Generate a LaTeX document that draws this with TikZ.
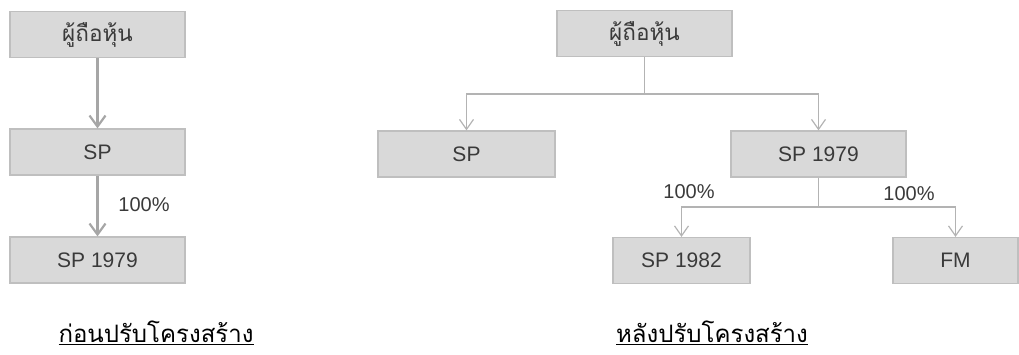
\documentclass[tikz,border=0pt]{standalone}
\usepackage{fontspec}
\setmainfont{Liberation Sans}
\newfontfamily\thaifont[Script=Thai]{Loma}
\usepackage{xcolor}
\usetikzlibrary{arrows.meta}

\definecolor{boxfill}{HTML}{D9D9D9}
\definecolor{boxline}{HTML}{BFBFBF}
\definecolor{linkgray}{HTML}{A6A6A6}
\definecolor{textgray}{HTML}{3A3A3A}

\begin{document}
\begin{tikzpicture}[x=1pt, y=-1pt,
		company/.style = {draw = boxline, line width = 1.2pt, fill = boxfill, text = textgray,
			minimum height = 46pt, inner sep = 0pt, font = \fontsize{21}{24}\selectfont},
		owner/.style = {company, font = \thaifont\fontsize{22.5}{25}\selectfont},
		thicklink/.style = {draw = linkgray, line width = 2.2pt, -{Straight Barb[length=11pt, width=16pt]}},
		thinlink/.style = {draw = linkgray!85, line width = 1.2pt, -{Straight Barb[length=10pt, width=14pt]}},
		share/.style = {text = textgray, font = \fontsize{20}{22}\selectfont},
		caption/.style = {font = \thaifont\fontsize{24}{27}\selectfont}]
		\useasboundingbox (0,0) rectangle (1019,354);
		
		\begin{scope}
		\node [owner, minimum width = 175pt] (ownerA) at (97.5,34.5) {ผู้ถือหุ้น};
		\node [company, minimum width = 175pt] (spA) at (97.5,152) {SP};
		\node [company, minimum width = 175pt] (sp79A) at (97.5,260) {SP 1979};
		
		\draw [thicklink] (ownerA) -- (spA);
		\draw [thicklink] (spA) -- (sp79A);
		\node [share] (shareA) at (144,205) {100\%};
		
		\node [caption] (capA) at (156,333) {\underline{ก่อนปรับโครงสร้าง}};
		\end{scope}
		
		\begin{scope}
		\node [owner, minimum width = 175pt] (ownerB) at (644.5,33.5) {ผู้ถือหุ้น};
		\node [company, minimum width = 177pt] (spB) at (466.5,154) {SP};
		\node [company, minimum width = 175pt] (sp79B) at (818.5,154) {SP 1979};
		\node [company, minimum width = 137pt] (sp82B) at (681.5,260.5) {SP 1982};
		\node [company, minimum width = 125pt] (fmB) at (955.5,260.5) {FM};
		
		\coordinate (forkB) at (ownerB.south |- 0,94);
		\coordinate (forkC) at (sp79B.south |- 0,207);
		\draw [thinlink] (ownerB.south) -- (forkB) -| (spB.north);
		\draw [thinlink] (forkB) -| (sp79B.north);
		\draw [thinlink] (sp79B.south) -- (forkC) -| (sp82B.north);
		\draw [thinlink] (forkC) -| (fmB.north);
		\node [share] (shareB) at (689,192) {100\%};
		\node [share] (shareC) at (909,194) {100\%};
		
		\node [caption] (capB) at (712,333) {\underline{หลังปรับโครงสร้าง}};
		\end{scope}
	\end{tikzpicture}
\end{document}
